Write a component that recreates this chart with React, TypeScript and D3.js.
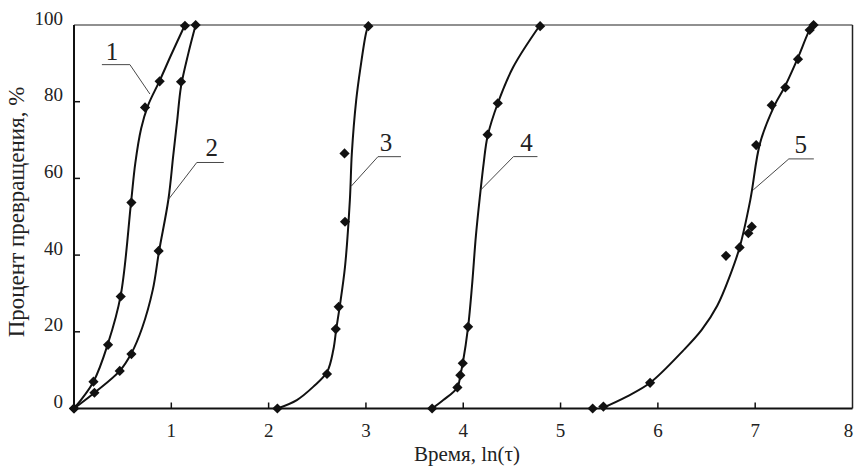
import React from "react";
import * as d3 from "d3";

// Measured conversion points (ln τ, % converted) for each run
const pts1: [number, number][] = [
  [0, 0], [0.2, 7.0], [0.35, 16.6], [0.48, 29.2], [0.59, 53.7], [0.73, 78.5], [0.88, 85.3], [1.14, 99.8],
];
const pts2: [number, number][] = [
  [0, 0], [0.21, 4.1], [0.47, 9.8], [0.59, 14.2], [0.87, 41.1], [1.1, 85.2], [1.25, 100],
];
const pts3: [number, number][] = [
  [2.09, 0], [2.6, 9.0], [2.69, 20.7], [2.72, 26.5], [2.785, 48.7], [2.78, 66.5], [3.025, 99.7],
];
const pts4: [number, number][] = [
  [3.68, 0], [3.94, 5.5], [3.97, 8.7], [3.995, 11.8], [4.05, 21.3], [4.25, 71.4], [4.355, 79.6], [4.79, 99.7],
];
const pts5: [number, number][] = [
  [5.33, 0], [5.44, 0.5], [5.92, 6.7], [6.7, 39.8], [6.84, 42.0], [6.93, 45.7], [6.965, 47.4],
  [7.01, 68.7], [7.17, 79.1], [7.31, 83.7], [7.44, 91.1], [7.56, 98.7], [7.6, 100],
];

// Fitted kinetic curves
const fit1: [number, number][] = [
  [0, 0], [0.2, 7], [0.35, 17], [0.48, 29.5], [0.586, 53.7], [0.63, 64], [0.69, 73], [0.76, 79], [0.877, 85.3], [1.0, 92.3], [1.14, 100],
];
const fit2: [number, number][] = [
  [0, 0], [0.21, 4.1], [0.47, 9.8], [0.59, 14.4], [0.7, 21], [0.81, 31], [0.874, 41], [0.97, 54.5], [1.02, 66], [1.06, 75], [1.1, 84], [1.175, 92.6], [1.25, 100],
];
const fit3: [number, number][] = [
  [2.09, 0], [2.29, 2.2], [2.46, 5.7], [2.6, 9.5], [2.665, 15.3], [2.695, 20.7], [2.73, 26.5], [2.785, 37], [2.835, 54.4], [2.855, 66.5], [2.9, 80.4], [2.945, 89.1], [3.0, 97.8], [3.025, 100],
];
const fit4: [number, number][] = [
  [3.68, 0], [3.795, 2.2], [3.94, 5.5], [3.97, 8.7], [3.995, 11.8], [4.05, 21.3], [4.09, 32], [4.13, 45], [4.173, 55.7], [4.21, 64], [4.25, 71], [4.355, 79.6], [4.515, 89.1], [4.79, 100],
];
const fit5: [number, number][] = [
  [5.42, 0], [5.68, 3.1], [5.92, 6.7], [6.26, 15.1], [6.45, 20.5], [6.61, 26.8], [6.74, 34.6], [6.84, 42], [6.95, 54.4], [7.05, 69.2], [7.2, 79.1], [7.3, 83.7], [7.43, 90.9], [7.58, 99.7], [7.6, 100],
];

const pointSets = [pts1, pts2, pts3, pts4, pts5];
const fitSets = [fit1, fit2, fit3, fit4, fit5];

const xTicks = [1, 2, 3, 4, 5, 6, 7, 8];
const xTickLabels = ["1", "2", "3", "4", "5", "6", "7", "8"];
const yTicks = [0, 20, 40, 60, 80, 100];
const yTickLabels = ["0", "20", "40", "60", "80", "100"];

const curveNames = ["1", "2", "3", "4", "5"];
// leader anchor on each curve (data units)
const calloutAnchors: [number, number][] = [
  [0.78, 82.0], [0.97, 54.5], [2.85, 58], [4.18, 57], [6.98, 57],
];

const xTitle = "Время, ln(τ)";
const yTitle = "Процент превращения, %";

const W = 858;
const H = 466;
const SERIF = '"Liberation Serif", "Times New Roman", "DejaVu Serif", serif';

// leader geometry in pixels: elbow offset from anchor, horizontal run, label offset from elbow
const leaders = [
  { dx: -20, dy: -29.4, run: -28, tx: -18, ty: -5 },
  { dx: 28.4, dy: -37, run: 27, tx: 15, ty: -6 },
  { dx: 26.6, dy: -29.4, run: 23, tx: 8, ty: -6 },
  { dx: 32.7, dy: -33.3, run: 24, tx: 13, ty: -6 },
  { dx: 35.6, dy: -31, run: 25, tx: 12, ty: -6 },
];

export default function App() {
  const x = d3.scaleLinear().domain([0, 8]).range([74, 852.5]);
  const y = d3.scaleLinear().domain([0, 100]).range([408.5, 25]);

  const line = d3
    .line<[number, number]>()
    .x((d) => x(d[0]))
    .y((d) => y(d[1]))
    .curve(d3.curveCatmullRom.alpha(0.5));

  const marker = d3.symbol().type(d3.symbolSquare).size(52)() as string;
  const txt = { fontFamily: SERIF, fill: "#222" } as React.CSSProperties;

  return (
    <svg width={W} height={H} style={{ position: "absolute", left: 0, top: 0, background: "#fff" }}>
      <rect x={0} y={0} width={W} height={H} fill="#fff" />
      {/* frame */}
      <line x1={x(0)} x2={x(8)} y1={y(100)} y2={y(100)} stroke="#222" strokeWidth={1.2} />
      <line x1={x(8)} x2={x(8)} y1={y(100)} y2={y(0)} stroke="#222" strokeWidth={1.5} />
      <line x1={x(0)} x2={x(0)} y1={y(100)} y2={y(0)} stroke="#111" strokeWidth={2} />
      <line x1={x(0)} x2={x(8)} y1={y(0)} y2={y(0)} stroke="#111" strokeWidth={2} />

      {/* y ticks */}
      {yTicks.map((t, i) => (
        <g key={"y" + t}>
          {t > 0 && t < 100 && (
            <line x1={x(0)} x2={x(0) + 6} y1={y(t)} y2={y(t)} stroke="#111" strokeWidth={1.5} />
          )}
          <text x={63} y={y(t) - 0.5} textAnchor="end" fontSize={19} style={txt}>
            {yTickLabels[i]}
          </text>
        </g>
      ))}

      {/* x ticks */}
      {xTicks.map((t, i) => (
        <g key={"x" + t}>
          {t < 8 && (
            <line x1={x(t)} x2={x(t)} y1={y(0)} y2={y(0) - 6} stroke="#111" strokeWidth={1.5} />
          )}
          <text x={x(t) - (t === 8 ? 4 : 0)} y={437} textAnchor="middle" fontSize={19} style={txt}>
            {xTickLabels[i]}
          </text>
        </g>
      ))}

      {/* fitted curves */}
      {fitSets.map((s, i) => (
        <path key={"f" + i} d={line(s) as string} fill="none" stroke="#111" strokeWidth={2} />
      ))}

      {/* measured points */}
      {pointSets.map((s, i) =>
        s.map((p, j) => (
          <path
            key={"p" + i + "-" + j}
            d={marker}
            transform={`translate(${x(p[0])},${y(p[1])}) rotate(45)`}
            fill="#111"
          />
        ))
      )}

      {/* curve labels with leaders */}
      {curveNames.map((name, i) => {
        const ax = x(calloutAnchors[i][0]);
        const ay = y(calloutAnchors[i][1]);
        const L = leaders[i];
        const ex = ax + L.dx;
        const ey = ay + L.dy;
        return (
          <g key={"c" + name}>
            <polyline
              points={`${ax},${ay} ${ex},${ey} ${ex + L.run},${ey}`}
              fill="none"
              stroke="#333"
              strokeWidth={0.9}
            />
            <text x={ex + L.tx} y={ey + L.ty} textAnchor="middle" fontSize={25} style={txt}>
              {name}
            </text>
          </g>
        );
      })}

      {/* axis titles */}
      <text x={467} y={461} textAnchor="middle" fontSize={21} style={txt}>
        {xTitle}
      </text>
      <text transform={`translate(24,212) rotate(-90)`} textAnchor="middle" fontSize={23} style={txt}>
        {yTitle}
      </text>
    </svg>
  );
}
